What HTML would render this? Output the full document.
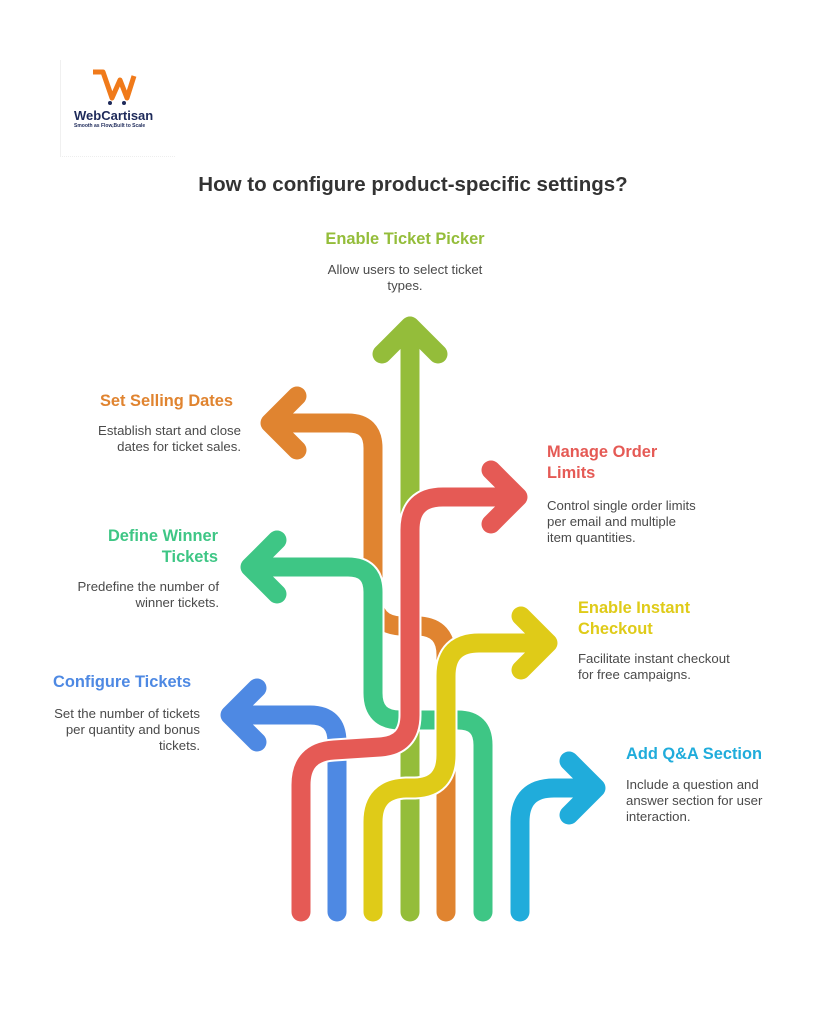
<!DOCTYPE html>
<html><head><meta charset="utf-8"><style>
body{margin:0;background:#fff;}
#c{position:relative;width:821px;height:1024px;overflow:hidden;background:#fff;font-family:"Liberation Sans",sans-serif;}
.t{position:absolute;font-weight:bold;font-size:16.4px;line-height:21px;white-space:nowrap;}
.d{position:absolute;font-size:13.2px;line-height:16px;color:#4a4a4a;white-space:nowrap;}
.r{text-align:right;}
</style></head><body><div id="c">
<div style="position:absolute;left:60px;top:60px;width:114px;height:96px;border-left:1px solid #f0f0f0;border-bottom:1px dotted #eee;"></div>
<svg style="position:absolute;left:0;top:0" width="821" height="1024">
<path d="M93 72 L103 72 L112 98 L120 80 L127 98 L134 76" fill="none" stroke="#f07a1a" stroke-width="5" stroke-linejoin="round"/>
<circle cx="110" cy="103" r="2" fill="#1e2a5a"/><circle cx="124" cy="103" r="2" fill="#1e2a5a"/>
</svg>
<div style="position:absolute;left:74px;top:108px;font-weight:bold;font-size:13px;color:#1e2a5a;">WebCartisan</div>
<div style="position:absolute;left:74px;top:123px;font-size:5px;color:#1e2a5a;font-weight:bold;">Smooth as Flow,Built to Scale</div>

<div class="t" style="left:0;width:826px;text-align:center;top:173px;font-size:20.5px;line-height:24px;color:#333;">How to configure product-specific settings?</div>

<svg style="position:absolute;left:0;top:0" width="821" height="1024" fill="none" stroke-linecap="round" stroke-linejoin="round">
<path d="M410 912 V326 M382 354 L410 326 L438 354" stroke="#fff" stroke-width="23"/>
<path d="M410 912 V326 M382 354 L410 326 L438 354" stroke="#94bd3a" stroke-width="19"/>
<path d="M446 912 V655 Q446 628 420 626 H400 Q373 624 373 597 V448 Q373 423 348 423 H270 M297 396 L270 423 L297 450" stroke="#fff" stroke-width="23"/>
<path d="M446 912 V655 Q446 628 420 626 H400 Q373 624 373 597 V448 Q373 423 348 423 H270 M297 396 L270 423 L297 450" stroke="#e08430" stroke-width="19"/>
<path d="M483 912 V745 Q483 720 458 720 H400 Q373 720 373 693 V592 Q373 567 348 567 H250 M277 540 L250 567 L277 594" stroke="#fff" stroke-width="23"/>
<path d="M483 912 V745 Q483 720 458 720 H400 Q373 720 373 693 V592 Q373 567 348 567 H250 M277 540 L250 567 L277 594" stroke="#3ec685" stroke-width="19"/>
<path d="M337 912 V742 Q337 715 310 715 H230 M257 688 L230 715 L257 742" stroke="#fff" stroke-width="23"/>
<path d="M337 912 V742 Q337 715 310 715 H230 M257 688 L230 715 L257 742" stroke="#4e89e3" stroke-width="19"/>
<path d="M301 912 V785 Q301 752 334 750 L380 747 Q410 745 410 715 V530 Q410 497 443 497 H518 M491 470 L518 497 L491 524" stroke="#fff" stroke-width="23"/>
<path d="M301 912 V785 Q301 752 334 750 L380 747 Q410 745 410 715 V530 Q410 497 443 497 H518 M491 470 L518 497 L491 524" stroke="#e55a55" stroke-width="19"/>
<path d="M373 912 V822 Q373 789 406 788 H415 Q446 787 446 755 V676 Q446 643 479 643 H548 M521 616 L548 643 L521 670" stroke="#fff" stroke-width="23"/>
<path d="M373 912 V822 Q373 789 406 788 H415 Q446 787 446 755 V676 Q446 643 479 643 H548 M521 616 L548 643 L521 670" stroke="#dfcb18" stroke-width="19"/>
<path d="M520 912 V822 Q520 788 554 788 H596 M569 761 L596 788 L569 815" stroke="#fff" stroke-width="23"/>
<path d="M520 912 V822 Q520 788 554 788 H596 M569 761 L596 788 L569 815" stroke="#20acdb" stroke-width="19"/>
</svg>

<div class="t" style="left:255px;width:300px;text-align:center;top:229px;color:#94bd3a;">Enable Ticket Picker</div>
<div class="d" style="left:255px;width:300px;text-align:center;top:262px;white-space:normal;">Allow users to select ticket<br>types.</div>

<div class="t r" style="right:588px;top:391px;color:#e08430;">Set Selling Dates</div>
<div class="d r" style="right:580px;top:423px;">Establish start and close<br>dates for ticket sales.</div>

<div class="t r" style="right:603px;top:526px;color:#3ec685;">Define Winner<br>Tickets</div>
<div class="d r" style="right:602px;top:579px;">Predefine the number of<br>winner tickets.</div>

<div class="t" style="left:53px;top:672px;color:#4e89e3;">Configure Tickets</div>
<div class="d r" style="right:621px;top:706px;">Set the number of tickets<br>per quantity and bonus<br>tickets.</div>

<div class="t" style="left:547px;top:442px;color:#e55a55;">Manage Order<br>Limits</div>
<div class="d" style="left:547px;top:498px;">Control single order limits<br>per email and multiple<br>item quantities.</div>

<div class="t" style="left:578px;top:598px;color:#dfcb18;">Enable Instant<br>Checkout</div>
<div class="d" style="left:578px;top:651px;">Facilitate instant checkout<br>for free campaigns.</div>

<div class="t" style="left:626px;top:744px;color:#20acdb;">Add Q&amp;A Section</div>
<div class="d" style="left:626px;top:777px;">Include a question and<br>answer section for user<br>interaction.</div>
</div></body></html>
